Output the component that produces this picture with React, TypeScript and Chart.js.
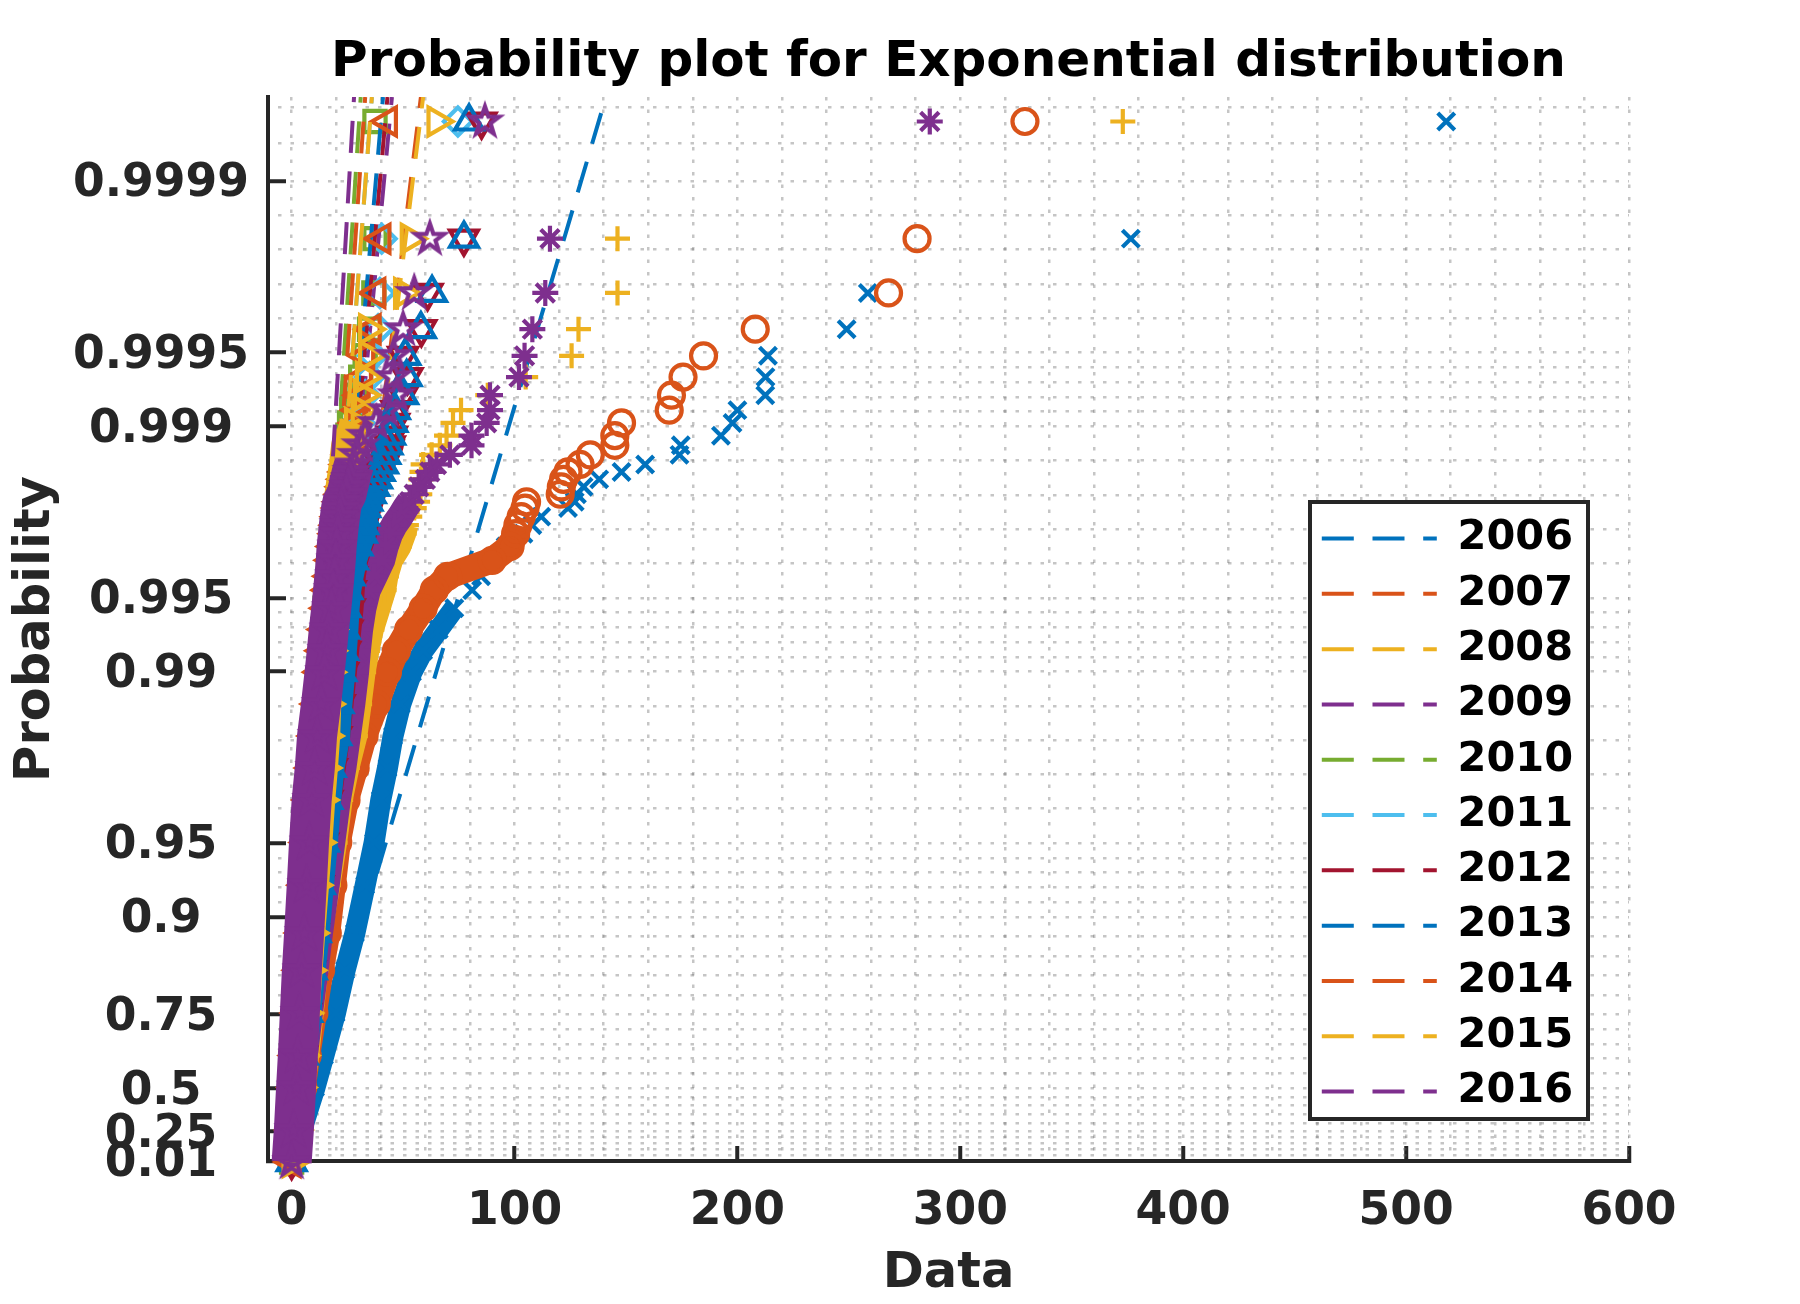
import React, { useEffect, useRef } from "react";
import { Chart, registerables } from "chart.js";

Chart.register(...registerables);

const FONT = "'DejaVu Sans'";
const AXIS_COLOR = "#262626";
const GRID_COLOR = "rgba(110,110,110,0.4)";

// -log(1-p) of the plotted order statistics: vertical position shared by all years
const levels = [9.77,8.67,8.16,7.82,7.57,7.37,7.2,7.06,6.94,6.82,6.73,6.64,6.55,6.48,6.41,6.34,6.27,6.2,6.14,6.06,5.98,5.9,5.78,5.65,5.5,5.37,5.2,5.0,4.8,4.6,4.3,4.0,3.7,3.4,3.0,2.6,2.15,1.8,1.4,1.0,0.7,0.3,0.0];

const x2006 = [518,376.5,258.5,249,213.7,212.6,212.5,200,197.8,192.6,174.6,174,158.6,148,138,131,128,127,124,112,108,104,96,90,85,81,73,66,59,54,49,45.5,43,40,37,33,28.4,24,19.7,14.5,10.5,4.5,0];
const x2007 = [329,280.6,267.8,208,184.8,175.6,170.4,169.4,148,145,145,134,129.4,124,122,121,120.5,105.4,104.7,103,101.5,100.5,98,90,70,64,59,52.5,47,43,38,32.5,28.5,24.4,20.7,18.5,16,13,10,7,5,2.5,0];
const x2008 = [372.9,146.2,146.2,128.7,125.6,105,88,76,72.4,69.5,66.5,62.8,59,58.5,58,57.8,57.5,56.5,55,53,51.5,50.5,48.4,44.6,42.5,41.5,39,36,34,32.3,30.5,28.6,25,22,19.5,16.5,12.7,11,9,7,5,2.5,0];
const x2009 = [286.3,115.9,113.8,108,104.5,102,89,89,87.5,80.7,80.7,71,65,62,60,57,55,53,51,48.7,46,44,42,40.4,37,34,32,30.5,29.5,28.7,27,25,23,20.5,18,15.5,12.5,10.5,8,5.7,4,1.7,0];
const x2010 = [37.4,37.4,36.9,35,33,31,29,27,26,25.3,24.6,24,23.5,23,22.5,22,21.5,21,20.5,20,19.5,19,18.3,17.6,16.8,16,15,14,13.2,12.4,11.4,10.4,9.5,8.7,7.6,6.6,5.4,4.5,3.5,2.5,1.8,0.8,0];
const x2011 = [74.6,40.4,39.6,38.8,36.5,35,33,31.5,30.5,29.5,28.7,28,27.2,26.5,26,25.5,25,24.5,24,23.3,22.6,22,21,20,19,18,17,16,15,14,13,12,11,10,8.5,7.4,6,5,3.9,2.8,2,0.9,0];
const x2012 = [85.2,77.3,61,58.2,50,52,50,47,46,45,44,42,40,39,38,37,36,35,34,33,32.5,32,30,28,27,26.5,26,25,24,23,21.5,20,18,16,14,12,9.8,8.3,6.4,4.5,3.2,1.4,0];
const x2013 = [79.6,77.3,63,58,51,51.6,50,46.3,45.2,44.2,43,42,41,39.5,38.3,37,35.5,34,33,32.5,32,31.5,29.5,27.5,26,25,24.2,23.7,23,22.3,21,20,17.5,16,14.5,12.7,10.8,9,7,5,3.5,1.5,0];
const x2014 = [43.2,40.3,38,35.9,33,32,31,30,29,28,27,26,25,24.4,23.8,23.2,22.7,22,21.5,21,20.5,20,19,18.2,17.5,16.8,16,15,14,13,11.8,10.5,9.3,8.2,7,6,4.8,3.9,3,2.1,1.5,0.6,0];
const x2015 = [65,53,50,34.3,34.3,32.9,32,31,28,26,24,23.5,23,22.5,22,21.5,21,20.8,20.5,20,19.7,19.4,19,18.6,18.2,18,17.6,17.2,16.9,16.5,16,15.5,14.5,13.3,12,10.5,8.8,7.6,6.2,4.6,3.3,1.5,0];
const x2016 = [86.7,62,55,50,45.7,45.7,47,42.6,38,33,31,29,28,27,26.2,25.4,24.6,22.8,22.2,21.7,21.2,20.8,20.2,19.8,19.2,18.6,17.8,16.7,15.8,14.8,13.2,11.4,10.4,9,7.8,6.8,5.6,4.6,3.7,2.8,2,1,0];

const years = ["2006","2007","2008","2009","2010","2011","2012","2013","2014","2015","2016"];
const xByYear = [x2006,x2007,x2008,x2009,x2010,x2011,x2012,x2013,x2014,x2015,x2016];

// Where each year's points merge into a solid band
const solidBelow = [5.2,6.0,6.0,6.2,6.8,6.8,6.9,6.4,6.9,7.0,6.6];
// x of each year's fitted line at the top of the axis (level 10)
const fitEnd = [141,58,59,45,31,36,43,41,33,36,28];

const colors = ["#0072BD","#D95319","#EDB120","#7E2F8E","#77AC30","#4DBEEE","#A2142F","#0072BD","#D95319","#EDB120","#7E2F8E"];
const markerStyles = ["crossRot","circle","cross","star","rect","rectRot","triangle","triangle","triangle","triangle","pentagram"];
const markerRotation = [0,0,0,0,0,0,180,0,-90,90,0];
const markerRadius = [12,12.5,12.5,13,15,14,16,16,16,16,16];
const bandWidth = [21,26,24,27,24,26,28,28,28,28,40];

const probTicks = [0.01,0.25,0.5,0.75,0.9,0.95,0.99,0.995,0.999,0.9995,0.9999];
const probExtraRows = [0.99993,0.99995];
const xMajor = [0,100,200,300,400,500,600];
const xGridStep = 20;

const toQ = (p: number) => -Math.log(1 - p);

function yGridValues(): number[] {
  const out: number[] = [];
  for (let i = 0; i < probTicks.length; i++) {
    const a = toQ(probTicks[i]);
    out.push(a);
    if (i < probTicks.length - 1) {
      const b = toQ(probTicks[i + 1]);
      for (let k = 1; k < 5; k++) out.push(a + ((b - a) * k) / 5);
    }
  }
  probExtraRows.forEach((p) => out.push(toQ(p)));
  return out;
}

function pentagram(color: string): HTMLCanvasElement {
  const c = document.createElement("canvas");
  c.width = 46;
  c.height = 46;
  const g = c.getContext("2d")!;
  g.strokeStyle = color;
  g.lineWidth = 4.2;
  g.lineJoin = "miter";
  g.beginPath();
  for (let i = 0; i < 10; i++) {
    const r = i % 2 === 0 ? 15 : 5.9;
    const a = -Math.PI / 2 + (i * Math.PI) / 5;
    const px = 23 + r * Math.cos(a);
    const py = 23 + r * Math.sin(a);
    if (i === 0) g.moveTo(px, py);
    else g.lineTo(px, py);
  }
  g.closePath();
  g.stroke();
  return c;
}

const legendBoxPlugin = {
  id: "legendBox",
  afterLayout(chart: any) {
    const legend = chart.legend;
    if (!legend) return;
    legend.left = 1308;
    legend.top = 504;
    legend.right = 1590;
    legend.bottom = 1158;
    legend.width = 282;
    legend.height = 654;
    if (!legend.__wrapped) {
      legend.__wrapped = true;
      const orig = legend.draw.bind(legend);
      legend.draw = function () {
        const ctx = chart.ctx;
        ctx.save();
        ctx.fillStyle = "#ffffff";
        ctx.fillRect(1310, 502, 278, 617);
        ctx.strokeStyle = AXIS_COLOR;
        ctx.lineWidth = 4;
        ctx.strokeRect(1310, 502, 278, 617);
        ctx.restore();
        orig();
      };
    }
  },
};

export default function App() {
  const ref = useRef<HTMLCanvasElement | null>(null);

  useEffect(() => {
    const canvas = ref.current!;
    const datasets: any[] = [];
    years.forEach((year, k) => {
      const color = colors[k];
      const style: any = markerStyles[k] === "pentagram" ? pentagram(color) : markerStyles[k];
      const points = levels.map((y, i) => ({ x: xByYear[k][i], y }));
      datasets.push({
        label: year + " band",
        data: points.filter((p) => p.y <= solidBelow[k]),
        showLine: true,
        borderColor: color,
        borderWidth: bandWidth[k],
        borderJoinStyle: "round",
        pointRadius: 0,
        clip: false,
        order: 1000 - k * 3,
      });
      datasets.push({
        label: year + " data",
        data: points,
        showLine: false,
        pointStyle: style,
        pointRotation: markerRotation[k],
        pointRadius: markerRadius[k],
        pointBorderWidth: 4.2,
        pointBorderColor: color,
        pointBackgroundColor: "rgba(0,0,0,0)",
        clip: false,
        order: 1000 - k * 3 - 1,
      });
      datasets.push({
        label: year,
        data: [
          { x: 0, y: 0 },
          { x: fitEnd[k], y: 10 },
        ],
        showLine: true,
        borderColor: color,
        borderWidth: 4,
        borderDash: [32, 18.7],
        borderDashOffset: 3,
        pointRadius: 0,
        order: 1000 - k * 3 + 1,
      });
    });

    const yMajorLabel = new Map<string, string>();
    probTicks.forEach((p) => yMajorLabel.set(toQ(p).toFixed(6), String(p)));

    const chart = new Chart(canvas, {
      type: "scatter",
      data: { datasets },
      plugins: [legendBoxPlugin],
      options: {
        responsive: false,
        animation: false,
        layout: { padding: { left: 0, right: 171, top: 0, bottom: 0 } },
        plugins: {
          tooltip: { enabled: false },
          title: {
            display: true,
            text: "Probability plot for Exponential distribution",
            color: "#000000",
            fullSize: false,
            font: { family: FONT, size: 50, weight: "bold", lineHeight: 1 },
            padding: { top: 38, bottom: 9 },
          },
          legend: {
            display: true,
            position: "chartArea",
            align: "start",
            labels: {
              usePointStyle: true,
              pointStyleWidth: 115,
              padding: 13.8,
              color: "#000000",
              font: { family: FONT, size: 41.5, weight: "bold" },
              generateLabels: () =>
                years.map((year, k) => ({
                  text: year,
                  strokeStyle: colors[k],
                  fillStyle: "rgba(0,0,0,0)",
                  fontColor: "#000000",
                  lineWidth: 4,
                  lineDash: [32, 18.7],
                  lineCap: "butt",
                  pointStyle: "line",
                  hidden: false,
                  datasetIndex: k * 3 + 2,
                })),
            },
          },
        },
        scales: {
          x: {
            type: "linear",
            min: -10.6,
            max: 600,
            afterBuildTicks: (scale: any) => {
              const t: any[] = [];
              for (let v = 0; v <= 600; v += xGridStep) t.push({ value: v });
              scale.ticks = t;
            },
            afterFit: (scale: any) => {
              scale.height = 143;
            },
            title: {
              display: true,
              text: "Data",
              color: AXIS_COLOR,
              font: { family: FONT, size: 49.5, weight: "bold", lineHeight: 1.2 },
              padding: { top: 0, bottom: 0.2 },
            },
            border: { display: true, color: AXIS_COLOR, width: 4, dash: [3.5, 9], dashOffset: 0 },
            grid: {
              display: true,
              color: GRID_COLOR,
              lineWidth: 2.5,
              tickLength: -15,
              tickWidth: 4,
              tickBorderDash: [],
              tickColor: (ctx: any) => (xMajor.includes(ctx.tick?.value) ? AXIS_COLOR : "rgba(0,0,0,0)"),
            },
            ticks: {
              autoSkip: false,
              maxRotation: 0,
              minRotation: 0,
              padding: 39,
              color: AXIS_COLOR,
              font: { family: FONT, size: 45.6, weight: "bold" },
              callback: (v: any) => (xMajor.includes(v) ? String(v) : ""),
            },
          },
          y: {
            type: "linear",
            min: toQ(0.01),
            max: 10,
            afterBuildTicks: (scale: any) => {
              scale.ticks = yGridValues().map((value) => ({ value }));
            },
            afterFit: (scale: any) => {
              scale.width = 268;
            },
            title: {
              display: true,
              text: "Probability",
              color: AXIS_COLOR,
              font: { family: FONT, size: 49.5, weight: "bold", lineHeight: 1.2 },
              padding: { top: 6.6, bottom: 0 },
            },
            border: { display: true, color: AXIS_COLOR, width: 4, dash: [3.5, 9], dashOffset: 4.5 },
            grid: {
              display: true,
              color: GRID_COLOR,
              lineWidth: 2.5,
              tickLength: -18,
              tickWidth: 4,
              tickBorderDash: [],
              tickColor: (ctx: any) =>
                yMajorLabel.has(Number(ctx.tick?.value).toFixed(6)) ? AXIS_COLOR : "rgba(0,0,0,0)",
            },
            ticks: {
              autoSkip: false,
              crossAlign: "center",
              padding: 37,
              color: AXIS_COLOR,
              // a line height of 7px with an empty first line moves each label down 3.5px
              font: { family: FONT, size: 45.6, weight: "bold", lineHeight: "7px" },
              callback: (v: any) => {
                const label = yMajorLabel.get(Number(v).toFixed(6));
                return label ? ["", label] : "";
              },
            },
          },
        },
      } as any,
    } as any);
    return () => chart.destroy();
  }, []);

  return (
    <div style={{ position: "absolute", left: 0, top: 0, width: 1800, height: 1304, background: "#fff" }}>
      <canvas ref={ref} width={1800} height={1304} style={{ display: "block" }} />
    </div>
  );
}
